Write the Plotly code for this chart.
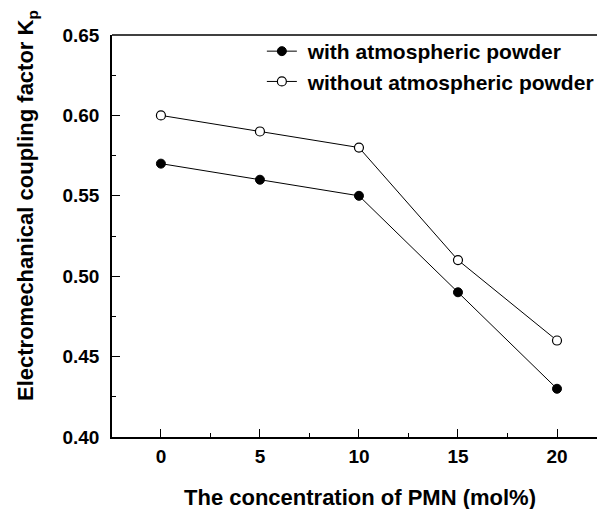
import plotly.graph_objects as go

pmn = [0, 5, 10, 15, 20]
with_powder = [0.57, 0.56, 0.55, 0.49, 0.43]
without_powder = [0.60, 0.59, 0.58, 0.51, 0.46]
x_ticks = [0, 5, 10, 15, 20]
y_ticks = [0.40, 0.45, 0.50, 0.55, 0.60, 0.65]
series_names = ["with atmospheric powder", "without atmospheric powder"]

FONT = "Liberation Sans, Arial, Helvetica, sans-serif"
PAD = "\u00a0"

fig = go.Figure()
fig.add_trace(go.Scatter(
    x=pmn, y=with_powder, mode="lines+markers", name=PAD + series_names[0],
    legendgroup="a",
    line=dict(color="black", width=1),
    marker=dict(symbol="circle", size=9, color="black", line=dict(color="black", width=1)),
))
fig.add_trace(go.Scatter(
    x=pmn, y=without_powder, mode="lines+markers", name=PAD + series_names[1],
    legendgroup="b",
    line=dict(color="black", width=1),
    marker=dict(symbol="circle", size=9, color="white", line=dict(color="black", width=1.2)),
))

fig.update_layout(
    width=597, height=509,
    margin=dict(l=112, r=0, t=35, b=72, autoexpand=False),
    paper_bgcolor="white", plot_bgcolor="white",
    font=dict(family=FONT, color="black"),
    showlegend=True,
    legend=dict(x=0.309, y=1.0 + 4/402, xanchor="left", yanchor="top",
                bgcolor="rgba(0,0,0,0)",
                font=dict(size=21, family=FONT, color="black", weight="bold"),
                tracegroupgap=0),
    xaxis=dict(range=[-2.47, 22.02], tickvals=x_ticks, ticks="inside", ticklen=8,
               tickwidth=1.2, tickcolor="black",
               minor=dict(tickvals=[2.5, 7.5, 12.5, 17.5], ticks="inside", ticklen=4,
                          tickcolor="black", tickwidth=1.2),
               showline=True, linecolor="black", linewidth=1.5, showgrid=False,
               zeroline=False, ticklabelstandoff=1,
               tickfont=dict(size=19, family=FONT, color="black", weight="bold")),
    yaxis=dict(range=[0.40, 0.65], tickvals=y_ticks, tickformat=".2f", ticks="inside",
               ticklen=8, tickwidth=1.2, tickcolor="black",
               minor=dict(tickvals=[0.425, 0.475, 0.525, 0.575, 0.625], ticks="inside",
                          ticklen=4, tickcolor="black", tickwidth=1.2),
               showline=True, linecolor="black", linewidth=1.5, showgrid=False,
               zeroline=False, ticklabelstandoff=7,
               tickfont=dict(size=19, family=FONT, color="black", weight="bold")),
    shapes=[dict(type="line", xref="paper", yref="paper", x0=0, x1=1, y0=1, y1=1,
                 line=dict(color="black", width=1.5))],
    annotations=[
        dict(text="Electromechanical coupling factor K<sub>p</sub>", xref="paper", yref="paper",
             x=-112/485, y=(437-206)/402, xanchor="left", yanchor="middle", xshift=11,
             textangle=-90, showarrow=False,
             font=dict(size=22, family=FONT, color="black", weight="bold")),
        dict(text="The concentration of PMN (mol%)", xref="paper", yref="paper",
             x=(360-112)/485, y=0, xanchor="center", yanchor="middle", yshift=-60,
             showarrow=False,
             font=dict(size=22, family=FONT, color="black", weight="bold")),
    ],
)

fig.write_html("out.html")
